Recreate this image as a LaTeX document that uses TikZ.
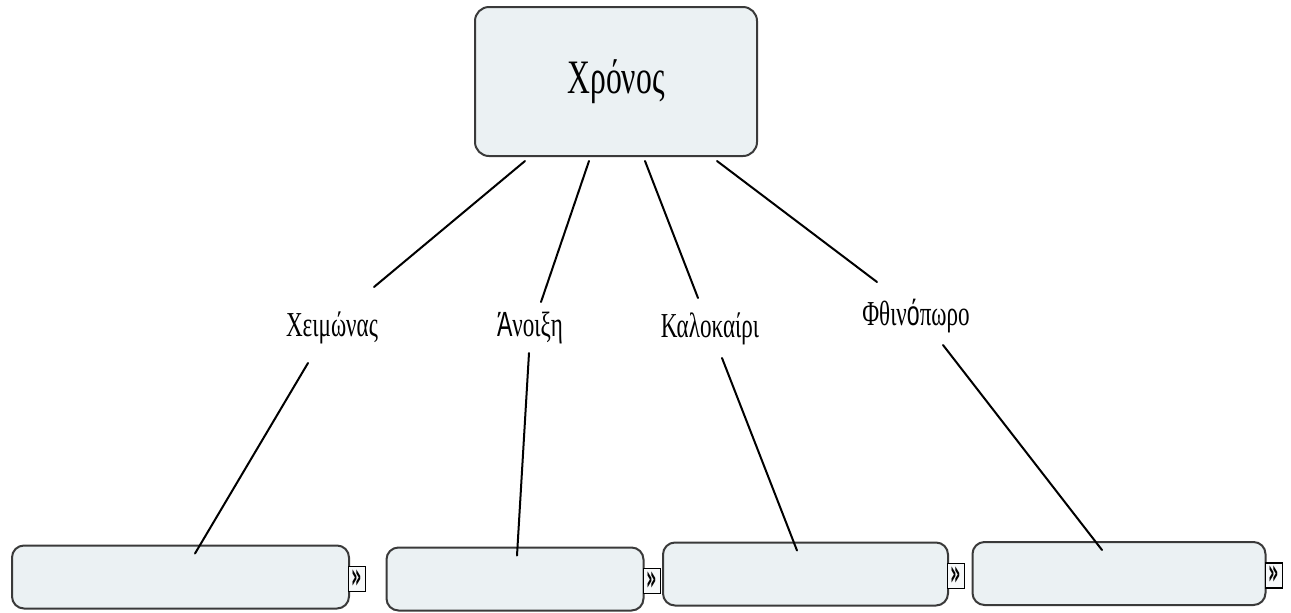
\documentclass[tikz,border=0pt]{standalone}
\usepackage{fontspec}
\setmainfont{Liberation Serif}[FakeStretch=0.66]
\newfontfamily\grsans{Liberation Sans}[FakeStretch=0.66]
\newfontfamily\symfont{DejaVu Sans}
\usetikzlibrary{calc}
\definecolor{boxfill}{HTML}{EBF1F3}
\definecolor{boxline}{HTML}{3A3A3A}
\def\slotheight{31.5pt}
\def\slotradius{6pt}
\tikzset{
    timeborder/.style = {
        draw=boxline, fill=boxfill, rectangle, rounded corners=7pt, line width=1pt,
        minimum width=141pt, minimum height=74.5pt, font=\fontsize{24}{28}\selectfont
    },
    season/.style = {
        font=\fontsize{17.5}{20}\selectfont, inner sep=0pt, anchor=base
    },
    slotborder/.style = {
        draw=boxline, fill=boxfill, rectangle, rounded corners=\slotradius, line width=1pt,
        minimum width=#1, minimum height=\slotheight
    },
    expander/.style = {
        draw=black, fill=boxfill!40, line width=0.6pt, minimum width=8.5pt, minimum height=12.5pt,
        inner sep=0pt, font=\symfont\bfseries\fontsize{18}{18}\selectfont
    },
    Slot/.pic = {
        \node [slotborder=#1](-edge){};
        \node [expander, anchor=west](-more) at ([xshift=-1pt, yshift=-1pt] -edge.east){\scalebox{0.45}[1]{»}};
    },
    link/.style = {
        line width=1pt, line cap=round
    },
}

\begin{document}
\begin{tikzpicture}[x=0.5pt, y=-0.5pt]
        \useasboundingbox (0,0) rectangle (1291,612);
        % Place the blocks
        \node [timeborder] (time) at (616,81.5) {Χρόνος};
        \node [season] (winter) at (332,336) {Χειμώνας};
        \node [season] (spring) at (530,336) {{\grsans Ά}νοιξη};
        \node [season] (summer) at (710,337) {Καλοκαίρι};
        \node [season] (autumn) at (916,325) {Φθιν{\grsans ό}πωρο};
        % Empty slots below
        \pic (s1) at (180.5,577) {Slot={168.5pt}};
        \pic (s2) at (515,579) {Slot={128.5pt}};
        \pic (s3) at (805.5,574) {Slot={142.5pt}};
        \pic (s4) at (1119,573.5) {Slot={146.5pt}};
        % Draw connections
        \begin{scope}[link]
            \draw ($(time.south)+(-91,4)$) -- ($(winter.base)+(42,-49)$);
            \draw ($(time.south)+(-27,4)$) -- ($(spring.base)+(11,-34)$);
            \draw ($(time.south)+(29,4)$) -- ($(summer.base)+(-12,-39)$);
            \draw ($(time.south)+(101,4)$) -- ($(autumn.base)+(-39,-43)$);
            \draw ($(winter.base)+(-24,27)$) -- ($(s1-edge.north)+(14.5,9)$);
            \draw ($(spring.base)+(-1,17)$) -- ($(s2-edge.north)+(2,9)$);
            \draw ($(summer.base)+(12,21)$) -- ($(s3-edge.north)+(-8.5,9)$);
            \draw ($(autumn.base)+(27,20)$) -- ($(s4-edge.north)+(-17,9)$);
        \end{scope}
\end{tikzpicture}
\end{document}
